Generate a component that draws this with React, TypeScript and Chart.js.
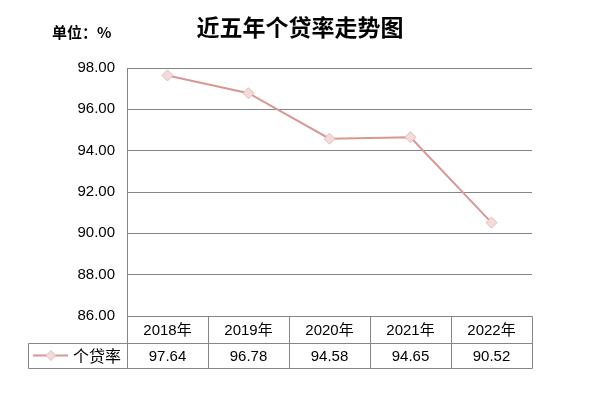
import React, { useEffect, useRef } from "react";
import { Chart, registerables } from "chart.js";

Chart.register(...registerables);

const chartTitle = "近五年个贷率走势图";
const unitLabel = "单位：%";
const seriesName = "个贷率";
const categories = ["2018年", "2019年", "2020年", "2021年", "2022年"];
const values = [97.64, 96.78, 94.58, 94.65, 90.52];
const yMin = 86;
const yMax = 98;
const yStep = 2;

const FONT = "'Liberation Sans', 'Noto Sans CJK SC', sans-serif";
const CJK = "'Noto Sans CJK SC', sans-serif";
const LINE_COLOR = "#d99694";
const POINT_FILL = "#f2dcdb";
const POINT_BORDER = "#e6b9b8";
const GRID = "#868686";

function diamond(ctx: CanvasRenderingContext2D, cx: number, cy: number, r: number) {
  ctx.beginPath();
  ctx.moveTo(cx, cy - r);
  ctx.lineTo(cx + r, cy);
  ctx.lineTo(cx, cy + r);
  ctx.lineTo(cx - r, cy);
  ctx.closePath();
  ctx.fillStyle = POINT_FILL;
  ctx.fill();
  ctx.strokeStyle = POINT_BORDER;
  ctx.lineWidth = 1;
  ctx.stroke();
}

const decorPlugin = {
  id: "decor",
  afterDraw(chart: any) {
    const ctx: CanvasRenderingContext2D = chart.ctx;
    const { left, right, bottom } = chart.chartArea;
    const xs = chart.scales.x;
    const n = categories.length;
    const colW = (right - left) / n;
    const h1 = 27;
    const h2 = 25;
    const legendLeft = 28;
    const px = (v: number) => Math.round(v) + 0.5;

    ctx.save();
    // title
    ctx.fillStyle = "#000";
    ctx.textAlign = "center";
    ctx.textBaseline = "middle";
    ctx.font = `bold 23px ${CJK}`;
    ctx.fillText(chartTitle, chart.width / 2, 27);
    ctx.textAlign = "left";
    ctx.font = `bold 15px ${CJK}`;
    ctx.fillText(unitLabel, 52, 32);

    // table grid
    ctx.strokeStyle = GRID;
    ctx.lineWidth = 1;
    ctx.beginPath();
    ctx.moveTo(px(left), px(bottom));
    ctx.lineTo(px(right), px(bottom));
    ctx.moveTo(px(legendLeft), px(bottom + h1));
    ctx.lineTo(px(right), px(bottom + h1));
    ctx.moveTo(px(legendLeft), px(bottom + h1 + h2));
    ctx.lineTo(px(right), px(bottom + h1 + h2));
    for (let i = 0; i <= n; i++) {
      const x = px(left + i * colW);
      ctx.moveTo(x, px(bottom));
      ctx.lineTo(x, px(bottom + h1 + h2));
    }
    ctx.moveTo(px(legendLeft), px(bottom + h1));
    ctx.lineTo(px(legendLeft), px(bottom + h1 + h2));
    ctx.stroke();

    // header + values
    ctx.fillStyle = "#000";
    ctx.textAlign = "center";
    ctx.textBaseline = "middle";
    ctx.font = `15px ${FONT}`;
    categories.forEach((c, i) => {
      const cx = xs.getPixelForValue(i);
      ctx.fillText(c, cx, bottom + h1 / 2 + 1);
      ctx.fillText(values[i].toFixed(2), cx, bottom + h1 + h2 / 2 + 1);
    });

    // legend key
    const ly = bottom + h1 + h2 / 2;
    ctx.strokeStyle = LINE_COLOR;
    ctx.lineWidth = 2;
    ctx.beginPath();
    ctx.moveTo(legendLeft + 5, ly);
    ctx.lineTo(legendLeft + 40, ly);
    ctx.stroke();
    diamond(ctx, legendLeft + 23, ly, 5);
    ctx.fillStyle = "#000";
    ctx.textAlign = "left";
    ctx.font = `16px ${CJK}`;
    ctx.fillText(seriesName, legendLeft + 45, ly);
    ctx.restore();
  },
};

export default function App() {
  const ref = useRef<HTMLCanvasElement | null>(null);
  useEffect(() => {
    if (!ref.current) return;
    const chart = new Chart(ref.current, {
      type: "line",
      data: {
        labels: categories,
        datasets: [
          {
            label: seriesName,
            data: values,
            borderColor: LINE_COLOR,
            borderWidth: 2,
            pointStyle: "rectRot",
            pointRadius: 5.5,
            pointBackgroundColor: POINT_FILL,
            pointBorderColor: POINT_BORDER,
            pointBorderWidth: 1,
            tension: 0,
          },
        ],
      },
      options: {
        responsive: false,
        animation: false,
        devicePixelRatio: 1,
        layout: { padding: { left: 0, right: 68, top: 68, bottom: 80 } },
        plugins: {
          legend: { display: false },
          title: { display: false },
          tooltip: { enabled: false },
        },
        scales: {
          x: {
            type: "category",
            display: false,
            offset: true,
          },
          y: {
            min: yMin,
            max: yMax,
            afterFit: (s: any) => {
              s.width = 127;
            },
            ticks: {
              stepSize: yStep,
              padding: 12,
              color: "#000",
              font: { family: FONT, size: 15 },
              callback: (v: any) => Number(v).toFixed(2),
            },
            grid: { color: GRID, lineWidth: 1, drawTicks: false },
            border: { color: GRID, width: 1 },
          },
        },
      },
      plugins: [decorPlugin],
    });
    return () => chart.destroy();
  }, []);
  return (
    <div style={{ position: "absolute", left: 0, top: 0, width: 600, height: 396, background: "#fff" }}>
      <canvas ref={ref} width={600} height={396} style={{ width: 600, height: 396, display: "block" }} />
    </div>
  );
}
